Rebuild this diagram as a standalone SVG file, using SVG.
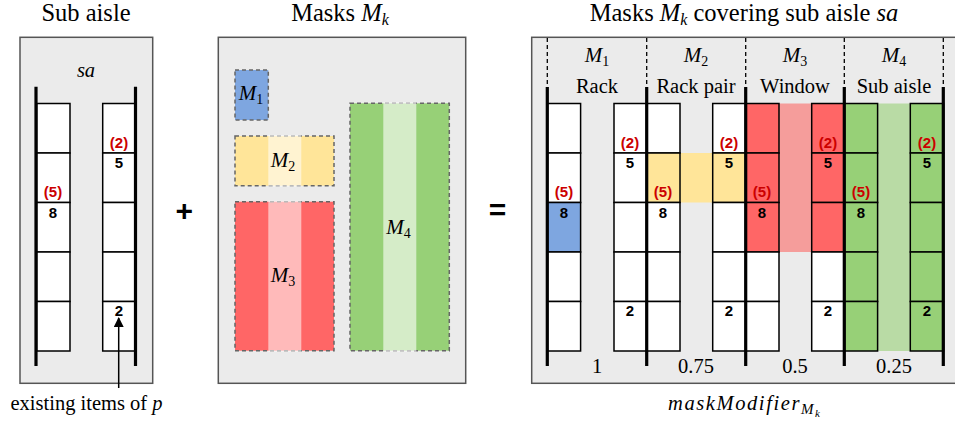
<svg xmlns="http://www.w3.org/2000/svg" width="955" height="426" viewBox="0 0 955 426">
  <defs>
    <style>
      .panel { fill: #ebebeb; stroke: #555; stroke-width: 1.5; }
      .serif { font-family: "Liberation Serif", "Times New Roman", serif; }
      .sans { font-family: "Liberation Sans", Arial, sans-serif; }
      .title { font-size: 24.5px; fill: #000; text-anchor: middle; }
      .lbl { font-size: 20.5px; fill: #000; text-anchor: middle; }
      .m { font-size: 21px; fill: #000; text-anchor: middle; }
      .it { font-style: italic; }
      .cell { stroke: #000; stroke-width: 1.5; }
      .w { fill: #fff; }
      .rail { stroke: #000; stroke-width: 3.2; fill: none; }
      .dash { stroke: #000; stroke-width: 1.3; stroke-dasharray: 4 3; fill: none; }
      .mask { stroke: #666; stroke-width: 1.5; stroke-dasharray: 4 3; }
      .num { font-weight: bold; font-size: 15px; fill: #000; text-anchor: middle; }
      .red { fill: #cc0000; }
      .op { font-weight: bold; font-size: 30px; fill: #000; text-anchor: middle; }
    </style>
    <marker id="arrow" viewBox="0 0 10 10" refX="9" refY="5" markerWidth="10" markerHeight="10" markerUnits="userSpaceOnUse" orient="auto">
      <path d="M0,0 L10,5 L0,10 z" fill="#000"/>
    </marker>
  </defs>

  <!-- ===== Sub aisle ===== -->
  <g id="subaisle">
    <rect class="panel" x="20" y="37.3" width="132.7" height="346"/>
    <g class="cell w">
      <rect x="36.7" y="103.5" width="33.3" height="49.5"/>
      <rect x="36.7" y="153" width="33.3" height="49.5"/>
      <rect x="36.7" y="202.5" width="33.3" height="49.5"/>
      <rect x="36.7" y="252" width="33.3" height="49.5"/>
      <rect x="36.7" y="301.5" width="33.3" height="49.5"/>
      <rect x="102.7" y="103.5" width="33.3" height="49.5"/>
      <rect x="102.7" y="153" width="33.3" height="49.5"/>
      <rect x="102.7" y="202.5" width="33.3" height="49.5"/>
      <rect x="102.7" y="252" width="33.3" height="49.5"/>
      <rect x="102.7" y="301.5" width="33.3" height="49.5"/>
    </g>
    <line class="rail" x1="36" y1="86.7" x2="36" y2="366"/>
    <line class="rail" x1="135.5" y1="86.7" x2="135.5" y2="366"/>
    <g class="serif">
      <text class="title" x="86" y="21">Sub aisle</text>
      <text class="lbl it" x="86" y="77" font-size="21">sa</text>
      <text class="lbl" x="86.5" y="410" font-size="21">existing items of <tspan class="it">p</tspan></text>
    </g>
    <g class="sans">
      <text class="num red" x="119" y="148">(2)</text>
      <text class="num" x="119" y="168">5</text>
      <text class="num red" x="53" y="197">(5)</text>
      <text class="num" x="53" y="218">8</text>
      <text class="num" x="119" y="316">2</text>
    </g>
  </g>

  <g id="connectors">
    <line x1="118.7" y1="388" x2="118.7" y2="318" stroke="#000" stroke-width="1.5" marker-end="url(#arrow)"/>
  </g>

  <g class="sans">
    <text class="op" x="184.3" y="221">+</text>
    <text class="op" x="497.5" y="220">=</text>
  </g>

  <!-- ===== Masks ===== -->
  <g id="masks" class="serif">
    <text class="title" x="340" y="21">Masks <tspan class="it">M</tspan><tspan class="it" font-size="16" dy="4">k</tspan></text>
    <rect class="panel" x="218.3" y="37.3" width="247.4" height="346"/>

    <g id="mask-m1">
      <rect class="mask" x="235" y="70" width="33.3" height="50" fill="#7ea6e0"/>
      <text class="m" x="251" y="100"><tspan class="it">M</tspan><tspan font-size="14" dy="4">1</tspan></text>
    </g>
    <g id="mask-m2">
      <rect class="mask" x="235" y="136" width="99" height="49.7" fill="#ffe599"/>
      <rect x="268.3" y="135" width="33" height="51.7" fill="#fff" fill-opacity="0.55"/>
      <text class="m" x="283" y="167"><tspan class="it">M</tspan><tspan font-size="14" dy="4">2</tspan></text>
    </g>
    <g id="mask-m3">
      <rect class="mask" x="235" y="201.7" width="99" height="149" fill="#ff6666"/>
      <rect x="268.3" y="200.7" width="33" height="151" fill="#fff" fill-opacity="0.55"/>
      <text class="m" x="283" y="282"><tspan class="it">M</tspan><tspan font-size="14" dy="4">3</tspan></text>
    </g>
    <g id="mask-m4">
      <rect class="mask" x="350" y="103.3" width="99.3" height="247.4" fill="#97d077"/>
      <rect x="383.3" y="102.3" width="33" height="249.4" fill="#fff" fill-opacity="0.6"/>
      <text class="m" x="398.5" y="234"><tspan class="it">M</tspan><tspan font-size="14" dy="4">4</tspan></text>
    </g>
  </g>

  <!-- ===== Masks covering sub aisle ===== -->
  <g id="covering">
    <rect class="panel" x="531.7" y="37.3" width="430" height="346"/>

    <!-- section dividers -->
    <g id="dividers">
      <line class="dash" x1="547.3" y1="38" x2="547.3" y2="87"/>
      <line class="dash" x1="646.7" y1="38" x2="646.7" y2="87"/>
      <line class="dash" x1="745.7" y1="38" x2="745.7" y2="87"/>
      <line class="dash" x1="844.3" y1="38" x2="844.3" y2="87"/>
      <line class="dash" x1="943.3" y1="38" x2="943.3" y2="87"/>
    </g>

    <!-- M1: rack -->
    <g id="sec-m1">
      <g class="cell w">
        <rect x="547.3" y="103.5" width="33.3" height="49.5"/>
        <rect x="547.3" y="153" width="33.3" height="49.5"/>
        <rect x="547.3" y="202.5" width="33.3" height="49.5" fill="#7ea6e0"/>
        <rect x="547.3" y="252" width="33.3" height="49.5"/>
        <rect x="547.3" y="301.5" width="33.3" height="49.5"/>
        <rect x="614" y="103.5" width="33.3" height="49.5"/>
        <rect x="614" y="153" width="33.3" height="49.5"/>
        <rect x="614" y="202.5" width="33.3" height="49.5"/>
        <rect x="614" y="252" width="33.3" height="49.5"/>
        <rect x="614" y="301.5" width="33.3" height="49.5"/>
      </g>
      <g class="sans">
        <text class="num red" x="630" y="148">(2)</text>
        <text class="num" x="630" y="168">5</text>
        <text class="num red" x="564" y="197">(5)</text>
        <text class="num" x="564" y="218">8</text>
        <text class="num" x="630" y="316">2</text>
      </g>
      <g class="serif">
        <text class="m" x="597" y="61.5"><tspan class="it">M</tspan><tspan font-size="14" dy="4">1</tspan></text>
        <text class="lbl" x="597" y="93">Rack</text>
        <text class="lbl" x="597" y="373">1</text>
      </g>
    </g>

    <!-- M2: rack pair -->
    <g id="sec-m2">
      <rect x="679.9" y="153" width="33" height="49.5" fill="#ffe599"/>
      <g class="cell w">
        <rect x="646.7" y="103.5" width="33.3" height="49.5"/>
        <rect x="646.7" y="153" width="33.3" height="49.5" fill="#ffe599"/>
        <rect x="646.7" y="202.5" width="33.3" height="49.5"/>
        <rect x="646.7" y="252" width="33.3" height="49.5"/>
        <rect x="646.7" y="301.5" width="33.3" height="49.5"/>
        <rect x="712.7" y="103.5" width="33.3" height="49.5"/>
        <rect x="712.7" y="153" width="33.3" height="49.5" fill="#ffe599"/>
        <rect x="712.7" y="202.5" width="33.3" height="49.5"/>
        <rect x="712.7" y="252" width="33.3" height="49.5"/>
        <rect x="712.7" y="301.5" width="33.3" height="49.5"/>
      </g>
      <g class="sans">
        <text class="num red" x="729" y="148">(2)</text>
        <text class="num" x="729" y="168">5</text>
        <text class="num red" x="663" y="197">(5)</text>
        <text class="num" x="663" y="218">8</text>
        <text class="num" x="729" y="316">2</text>
      </g>
      <g class="serif">
        <text class="m" x="696" y="61.5"><tspan class="it">M</tspan><tspan font-size="14" dy="4">2</tspan></text>
        <text class="lbl" x="696" y="93">Rack pair</text>
        <text class="lbl" x="696" y="373">0.75</text>
      </g>
    </g>

    <!-- M3: window -->
    <g id="sec-m3">
      <rect x="779" y="103.5" width="33" height="148.5" fill="#f59d9b"/>
      <g class="cell w">
        <rect x="745.7" y="103.5" width="33.3" height="49.5" fill="#ff6666"/>
        <rect x="745.7" y="153" width="33.3" height="49.5" fill="#ff6666"/>
        <rect x="745.7" y="202.5" width="33.3" height="49.5" fill="#ff6666"/>
        <rect x="745.7" y="252" width="33.3" height="49.5"/>
        <rect x="745.7" y="301.5" width="33.3" height="49.5"/>
        <rect x="811.7" y="103.5" width="33.3" height="49.5" fill="#ff6666"/>
        <rect x="811.7" y="153" width="33.3" height="49.5" fill="#ff6666"/>
        <rect x="811.7" y="202.5" width="33.3" height="49.5" fill="#ff6666"/>
        <rect x="811.7" y="252" width="33.3" height="49.5"/>
        <rect x="811.7" y="301.5" width="33.3" height="49.5"/>
      </g>
      <g class="sans">
        <text class="num red" x="828" y="148">(2)</text>
        <text class="num" x="828" y="168">5</text>
        <text class="num red" x="762" y="197">(5)</text>
        <text class="num" x="762" y="218">8</text>
        <text class="num" x="828" y="316">2</text>
      </g>
      <g class="serif">
        <text class="m" x="795" y="61.5"><tspan class="it">M</tspan><tspan font-size="14" dy="4">3</tspan></text>
        <text class="lbl" x="795" y="93">Window</text>
        <text class="lbl" x="795" y="373">0.5</text>
      </g>
    </g>

    <!-- M4: sub aisle -->
    <g id="sec-m4">
      <rect x="877.6" y="103.5" width="33" height="247.5" fill="#b9dba5"/>
      <g class="cell" fill="#97d077">
        <rect x="844.3" y="103.5" width="33.3" height="49.5"/>
        <rect x="844.3" y="153" width="33.3" height="49.5"/>
        <rect x="844.3" y="202.5" width="33.3" height="49.5"/>
        <rect x="844.3" y="252" width="33.3" height="49.5"/>
        <rect x="844.3" y="301.5" width="33.3" height="49.5"/>
        <rect x="910.3" y="103.5" width="33.3" height="49.5"/>
        <rect x="910.3" y="153" width="33.3" height="49.5"/>
        <rect x="910.3" y="202.5" width="33.3" height="49.5"/>
        <rect x="910.3" y="252" width="33.3" height="49.5"/>
        <rect x="910.3" y="301.5" width="33.3" height="49.5"/>
      </g>
      <g class="sans">
        <text class="num red" x="927" y="148">(2)</text>
        <text class="num" x="927" y="168">5</text>
        <text class="num red" x="861" y="197">(5)</text>
        <text class="num" x="861" y="218">8</text>
        <text class="num" x="927" y="316">2</text>
      </g>
      <g class="serif">
        <text class="m" x="894" y="61.5"><tspan class="it">M</tspan><tspan font-size="14" dy="4">4</tspan></text>
        <text class="lbl" x="894" y="93">Sub aisle</text>
        <text class="lbl" x="894" y="373">0.25</text>
      </g>
    </g>

    <!-- rack rails -->
    <g id="rails">
      <line class="rail" x1="547.3" y1="87" x2="547.3" y2="366"/>
      <line class="rail" x1="646.7" y1="87" x2="646.7" y2="366"/>
      <line class="rail" x1="745.7" y1="87" x2="745.7" y2="366"/>
      <line class="rail" x1="844.3" y1="87" x2="844.3" y2="366"/>
      <line class="rail" x1="943.3" y1="87" x2="943.3" y2="366"/>
    </g>

    <g class="serif">
      <text class="title" x="744" y="21">Masks <tspan class="it">M</tspan><tspan class="it" font-size="16" dy="4">k</tspan><tspan dy="-4"> covering sub aisle </tspan><tspan class="it">sa</tspan></text>
      <text class="lbl it" x="744" y="410" font-size="22" textLength="152" lengthAdjust="spacing">maskModifier<tspan font-size="15" dy="4">M</tspan><tspan font-size="11" dy="3">k</tspan></text>
    </g>
  </g>
</svg>
